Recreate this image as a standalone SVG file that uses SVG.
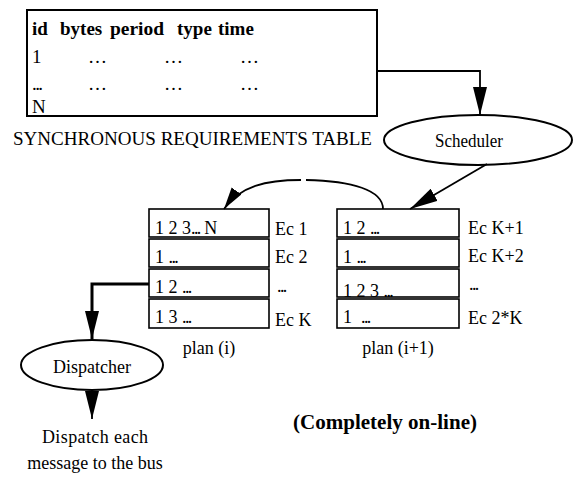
<svg xmlns="http://www.w3.org/2000/svg" width="574" height="477" viewBox="0 0 574 477">
  <style>
    text { font-family: "Liberation Serif", "Times New Roman", serif; fill: #000; }
    .hd { font-size: 19px; font-weight: bold; }
    .tx { font-size: 19px; }
    .rw { font-size: 18px; }
    .ec { font-size: 18px; }
    .lb { font-size: 18px; }
    .dots { letter-spacing: -1.6px; }
    .box { fill: #fff; stroke: #000; stroke-width: 1.6; }
    .frame { fill: #fff; stroke: #000; stroke-width: 2; }
    .node { fill: #fff; stroke: #000; stroke-width: 2; }
    .edge { fill: none; stroke: #000; stroke-width: 1.8; }
    .edge-thick { fill: none; stroke: #000; stroke-width: 3; }
  </style>
  <defs>
    <marker id="arrow" markerUnits="userSpaceOnUse" markerWidth="30" markerHeight="16" refX="28" refY="7" orient="auto">
      <path d="M0,0 L28,7 L0,14 z" fill="#000"/>
    </marker>
    <marker id="arrow-small" markerUnits="userSpaceOnUse" markerWidth="24" markerHeight="14" refX="22" refY="6" orient="auto">
      <path d="M0,0 L22,6 L0,12 z" fill="#000"/>
    </marker>
  </defs>

  <rect width="574" height="477" fill="#fff"/>

  <!-- requirements table -->
  <g id="requirements-table">
    <rect class="frame" x="27" y="10" width="350" height="106"/>
    <text class="hd" x="32" y="35">id</text>
    <text class="hd" x="60" y="35">bytes</text>
    <text class="hd" x="110" y="35" textLength="54" lengthAdjust="spacingAndGlyphs">period</text>
    <text class="hd" x="177" y="35">type</text>
    <text class="hd" x="218" y="35">time</text>
    <text class="tx" x="32" y="63">1</text>
    <text class="tx" x="88" y="63">…</text>
    <text class="tx" x="164" y="63">…</text>
    <text class="tx" x="240" y="63">…</text>
    <text class="tx dots" x="32" y="90">...</text>
    <text class="tx" x="88" y="90">…</text>
    <text class="tx" x="164" y="90">…</text>
    <text class="tx" x="240" y="90">…</text>
    <text class="tx" x="32" y="113">N</text>
  </g>
  <g id="table-title">
    <text class="tx" x="13" y="145" textLength="359" lengthAdjust="spacingAndGlyphs">SYNCHRONOUS REQUIREMENTS TABLE</text>
  </g>

  <!-- scheduler -->
  <g id="scheduler">
    <ellipse class="node" cx="478" cy="140" rx="94" ry="25"/>
    <text class="tx" x="435" y="147" textLength="68" lengthAdjust="spacingAndGlyphs">Scheduler</text>
  </g>

  <!-- plan (i) -->
  <g id="plan-i">
    <rect class="box" x="149" y="209" width="120" height="28"/>
    <rect class="box" x="149" y="239" width="120" height="28"/>
    <rect class="box" x="149" y="269" width="120" height="28"/>
    <rect class="box" x="149" y="299" width="120" height="29"/>
    <text class="rw" x="155" y="234">1 2 3<tspan class="dots">...</tspan> N</text>
    <text class="rw" x="155" y="263">1 <tspan class="dots">...</tspan></text>
    <text class="rw" x="155" y="293">1 2 <tspan class="dots">...</tspan></text>
    <text class="rw" x="155" y="323">1 3 <tspan class="dots">...</tspan></text>
    <text class="ec" x="275" y="235">Ec 1</text>
    <text class="ec" x="275" y="263">Ec 2</text>
    <text class="ec dots" x="277" y="292">...</text>
    <text class="ec" x="275" y="326">Ec K</text>
    <text class="lb" x="209" y="354" text-anchor="middle">plan (i)</text>
  </g>

  <!-- plan (i+1) -->
  <g id="plan-i-plus-1">
    <rect class="box" x="337" y="209" width="122" height="28"/>
    <rect class="box" x="337" y="239" width="122" height="28"/>
    <rect class="box" x="337" y="269" width="122" height="28"/>
    <rect class="box" x="337" y="299" width="122" height="29"/>
    <text class="rw" x="343" y="234">1 2 <tspan class="dots">...</tspan></text>
    <text class="rw" x="343" y="263">1 <tspan class="dots">...</tspan></text>
    <text class="rw" x="343" y="297">1 2 3 <tspan class="dots">...</tspan></text>
    <text class="rw" x="343" y="323">1 <tspan class="dots" x="361">...</tspan></text>
    <text class="ec" x="468" y="234">Ec K+1</text>
    <text class="ec" x="468" y="262">Ec K+2</text>
    <text class="ec dots" x="469" y="290">...</text>
    <text class="ec" x="468" y="324">Ec 2*K</text>
    <text class="lb" x="398" y="354" text-anchor="middle">plan (i+1)</text>
  </g>

  <!-- dispatcher -->
  <g id="dispatcher">
    <ellipse class="node" cx="92" cy="365" rx="71" ry="25"/>
    <text class="lb" x="92" y="373" text-anchor="middle">Dispatcher</text>
  </g>
  <g id="dispatch-note">
    <text class="lb" x="42" y="443" textLength="106" lengthAdjust="spacing">Dispatch each</text>
    <text class="lb" x="95" y="469" text-anchor="middle">message to the bus</text>
  </g>

  <g id="caption">
    <text x="293" y="429" font-size="21" font-weight="bold" textLength="184" lengthAdjust="spacingAndGlyphs">(Completely on-line)</text>
  </g>

  <!-- connectors -->
  <g id="connectors">
    <polyline class="edge" points="377,71 480,71 480,115" marker-end="url(#arrow)"/>
    <line class="edge" x1="487" y1="164" x2="410" y2="209" marker-end="url(#arrow)"/>
    <path class="edge" d="M383,209 C383,190 352,181 306,180"/>
    <path class="edge" d="M301,180 C266,180 240,186 224,209" marker-end="url(#arrow-small)"/>
    <polyline class="edge-thick" points="149,284 92,284 92,339" marker-end="url(#arrow)"/>
    <line class="edge" x1="92" y1="390" x2="92" y2="419" marker-end="url(#arrow)"/>
  </g>
</svg>
